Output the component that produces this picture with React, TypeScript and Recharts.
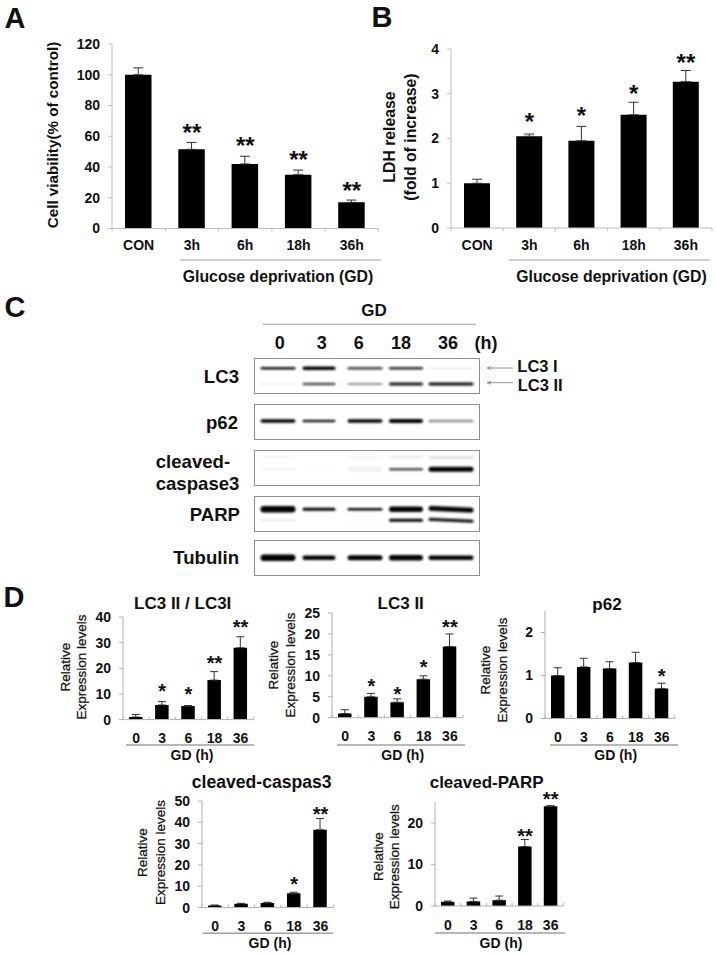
import { ComposedChart, Bar, Line, ErrorBar, LabelList, XAxis, YAxis, ScatterChart, Scatter } from 'recharts';

const FONT = '"Liberation Sans", Arial, sans-serif';

// panel A / B
const timeCategories = ['CON', '3h', '6h', '18h', '36h'];
const viabilityValues = [100, 51.5, 42, 35, 17];
const viabilityErrors = [4.5, 4.5, 5, 3, 1.5];
const viabilityStars = ['', '**', '**', '**', '**'];
const viabilityStarLevels = [null, 66, 57.5, 48, 28];

const ldhValues = [1, 2.05, 1.95, 2.53, 3.27];
const ldhErrors = [0.09, 0.05, 0.32, 0.28, 0.25];
const ldhStars = ['', '*', '*', '*', '**'];
const ldhStarLevels = [null, 2.49, 2.62, 3.12, 3.81];

// panel D
const gdHours = ['0', '3', '6', '18', '36'];
const ratioValues = [1, 5.7, 5.3, 15.4, 28];
const ratioErrors = [1, 1.3, 0.2, 3.3, 4.3];
const ratioStars = ['', '*', '*', '**', '**'];
const ratioStarLevels = [null, 12.7, 11.8, 23.9, 37.7];

const lc3Values = [1, 5, 3.7, 9.2, 17];
const lc3Errors = [0.9, 0.8, 0.8, 0.8, 3];
const lc3Stars = ['', '*', '*', '*', '**'];
const lc3StarLevels = [null, 8.6, 6.7, 13.1, 22.6];

const p62Values = [1, 1.2, 1.16, 1.3, 0.7];
const p62Errors = [0.18, 0.2, 0.16, 0.24, 0.12];
const p62Stars = ['', '', '', '', '*'];
const p62StarLevels = [null, null, null, null, 1.08];

const caspaseValues = [1, 1.8, 2.2, 6.7, 36.5];
const caspaseErrors = [0.2, 0.2, 0.3, 0.5, 5.3];
const caspaseStars = ['', '', '', '*', '**'];
const caspaseStarLevels = [null, null, null, 13.3, 46];

const parpValues = [1, 1.1, 1.4, 14.3, 24];
const parpErrors = [0.2, 0.8, 1, 1.7, 0.1];
const parpStars = ['', '', '', '**', '**'];
const parpStarLevels = [null, null, null, 18, 26.7];

// panel C, band strength per lane (0 = 0h ... 4 = 36h)
const lanePositions = [23, 64, 110, 151, 196];
const laneWidths = [35, 33, 35, 34, 45];
const lc3UpperStrength = [0.95, 1, 0.75, 0.85, 0.08];
const lc3UpperThickness = [2.5, 3.5, 2.5, 2.5, 2];
const lc3LowerStrength = [0.1, 0.7, 0.45, 0.9, 0.95];
const lc3LowerThickness = [1.5, 2.5, 2, 3, 3];
const p62Strength = [1, 0.9, 1, 1, 0.45];
const p62Thickness = [3.5, 2.5, 3.5, 4, 2.5];
const caspaseStrength = [0.03, 0.02, 0.05, 0.7, 1];
const caspaseThickness = [5, 2, 5, 2.5, 5];
const caspaseFaintStrength = [0.03, 0, 0.04, 0.08, 0.12];
const caspaseFaintThickness = [3, 2, 3, 3, 3];
const parpStrength = [1, 1, 1, 1, 1];
const parpThickness = [6.5, 3, 2.5, 5.5, 5];
const parpCleavedStrength = [0.1, 0, 0.02, 1, 1];
const parpCleavedThickness = [2, 2, 2, 3, 3];
const parpTilt = [0, 0, 0, 0, 2.5];
const tubulinStrength = [1, 1, 1, 1, 1];
const tubulinThickness = [6.5, 4.5, 5, 5.5, 4.5];

const buildRows = (cats, values, errors, stars, levels) =>
  cats.map((c, i) => ({ cat: c, value: values[i], err: [0, errors[i]], stars: stars[i], starLevel: levels[i] }));

const buildBands = (row, strength, thickness, tilt = [0, 0, 0, 0, 0]) =>
  lanePositions.map((lane, i) => ({ lane, row, strength: strength[i], thickness: thickness[i], width: laneWidths[i], tilt: tilt[i] }));

const StarMark = (fs) => (props: any) => {
  const x = props.x ?? props.viewBox?.x;
  const y = props.y ?? props.viewBox?.y;
  const w = props.width ?? props.viewBox?.width ?? 0;
  if (!props.value || y == null) return null;
  return (
    <text x={x + w / 2} y={y + fs * 0.57} textAnchor="middle" fontSize={fs} fontWeight="bold" fontFamily={FONT} fill="#111">
      {props.value}
    </text>
  );
};

function Panel({ left, top, w, h, rows, yMax, yTicks, barSize, starSize, tickSize = 14, catSize = 14, labelDy, tickUp = false, axisColor = '#bdbdbd', capWidth = 5 }: any) {
  const band = w / rows.length;
  const xTick = (p: any) => {
    const dir = tickUp ? -3 : 3;
    const edge = p.x - band / 2;
    return (
      <g>
        <line x1={edge} x2={edge} y1={p.y} y2={p.y + dir} stroke={axisColor} />
        {p.index === rows.length - 1 && <line x1={p.x + band / 2} x2={p.x + band / 2} y1={p.y} y2={p.y + dir} stroke={axisColor} />}
        <text x={p.x} y={p.y + labelDy} textAnchor="middle" dominantBaseline="central" fontSize={catSize} fontWeight="bold" fontFamily={FONT} fill="#111">
          {p.payload.value}
        </text>
      </g>
    );
  };
  return (
    <div style={{ position: 'absolute', left: left - 60, top: top - 20 }}>
      <ComposedChart width={w + 70} height={h + 60} data={rows} margin={{ top: 20, right: 10, left: 0, bottom: 0 }} barCategoryGap={0}>
        <XAxis dataKey="cat" height={40} interval={0} tickSize={0} tickMargin={0} tickLine={false} stroke={axisColor} tick={xTick} />
        <YAxis
          width={60}
          type="number"
          domain={[0, yMax]}
          ticks={yTicks}
          allowDataOverflow
          interval={0}
          tickSize={4}
          tickMargin={8}
          stroke={axisColor}
          tick={{ fontSize: tickSize, fontWeight: 'bold', fontFamily: FONT, fill: '#111' }}
        />
        <Bar dataKey="value" fill="#000" barSize={barSize} isAnimationActive={false}>
          <ErrorBar dataKey="err" direction="y" width={capWidth} stroke="#333" strokeWidth={1} isAnimationActive={false} />
        </Bar>
        <Line dataKey="starLevel" stroke="none" dot={false} activeDot={false} isAnimationActive={false} connectNulls={false}>
          <LabelList dataKey="stars" content={StarMark(starSize)} />
        </Line>
      </ComposedChart>
    </div>
  );
}

const BlotBand = (props: any) => {
  const { cx, cy, payload } = props;
  if (!payload.strength) return null;
  return (
    <rect
      x={cx - payload.width / 2}
      y={cy - payload.thickness / 2}
      width={payload.width}
      height={payload.thickness}
      rx={payload.thickness / 2}
      fill="#000"
      opacity={payload.strength}
      filter="url(#bandBlur)"
      transform={payload.tilt ? `rotate(${payload.tilt} ${cx} ${cy})` : undefined}
    />
  );
};

function Blot({ top, bands }: any) {
  return (
    <div style={{ position: 'absolute', left: 254, top, width: 224, height: 34, border: '1px solid #8f8f8f', boxSizing: 'content-box' }}>
      <ScatterChart width={224} height={34} margin={{ top: 0, right: 0, left: 0, bottom: 0 }}>
        <defs>
          <filter id="bandBlur" x="-20%" y="-200%" width="140%" height="500%">
            <feGaussianBlur stdDeviation="0.85" />
          </filter>
        </defs>
        <XAxis type="number" dataKey="lane" domain={[0, 224]} hide />
        <YAxis type="number" dataKey="row" domain={[0, 34]} reversed hide />
        <Scatter data={bands} shape={BlotBand} isAnimationActive={false} />
      </ScatterChart>
    </div>
  );
}

function Caption({ x, y, size = 14, anchor = 'middle', weight = 'bold', rotate = false, children }: any) {
  return (
    <text
      x={x}
      y={y}
      fontSize={size}
      fontWeight={weight}
      fontFamily={FONT}
      textAnchor={anchor}
      dominantBaseline="central"
      fill="#111"
      stroke={weight === 'normal' ? '#111' : undefined}
      strokeWidth={weight === 'normal' ? 0.25 : undefined}
      transform={rotate ? `rotate(-90 ${x} ${y})` : undefined}
    >
      {children}
    </text>
  );
}

function Rule({ x1, x2, y, width = 1 }: any) {
  return <line x1={x1} x2={x2} y1={y} y2={y} stroke="#a0a0a0" strokeWidth={width} />;
}

export default function App() {
  const dPanel = { barSize: 13.5, starSize: 20, tickSize: 14, catSize: 14, labelDy: 18.5, tickUp: true, capWidth: 4, axisColor: '#b0b0b0' };
  return (
    <div style={{ position: 'absolute', left: 0, top: 0, width: 716, height: 955, background: '#fff', overflow: 'hidden' }}>
      <Panel left={112} top={43.5} w={266.5} h={184.5} rows={buildRows(timeCategories, viabilityValues, viabilityErrors, viabilityStars, viabilityStarLevels)} yMax={120} yTicks={[0, 20, 40, 60, 80, 100, 120]} barSize={26.5} starSize={24} labelDy={16} />
      <Panel left={450.7} top={49.3} w={261} h={179} rows={buildRows(timeCategories, ldhValues, ldhErrors, ldhStars, ldhStarLevels)} yMax={4} yTicks={[0, 1, 2, 3, 4]} barSize={26} starSize={24} labelDy={17} />

      <Panel {...dPanel} left={123.3} top={616.7} w={130.7} h={102.6} rows={buildRows(gdHours, ratioValues, ratioErrors, ratioStars, ratioStarLevels)} yMax={40} yTicks={[0, 10, 20, 30, 40]} />
      <Panel {...dPanel} left={332.3} top={613.3} w={131} h={104.7} rows={buildRows(gdHours, lc3Values, lc3Errors, lc3Stars, lc3StarLevels)} yMax={25} yTicks={[0, 5, 10, 15, 20, 25]} />
      <Panel {...dPanel} left={545.3} top={610.8} w={129.7} h={107.5} rows={buildRows(gdHours, p62Values, p62Errors, p62Stars, p62StarLevels)} yMax={2.5} yTicks={[0, 1, 2]} />
      <Panel {...dPanel} left={201.7} top={800.7} w={131.6} h={106.6} rows={buildRows(gdHours, caspaseValues, caspaseErrors, caspaseStars, caspaseStarLevels)} yMax={50} yTicks={[0, 10, 20, 30, 40, 50]} />
      <Panel {...dPanel} left={435} top={802} w={128.5} h={104} rows={buildRows(gdHours, parpValues, parpErrors, parpStars, parpStarLevels)} yMax={25} yTicks={[0, 10, 20]} />

      <Blot top={358} bands={[...buildBands(9.3, lc3UpperStrength, lc3UpperThickness), ...buildBands(25, lc3LowerStrength, lc3LowerThickness)]} />
      <Blot top={404} bands={buildBands(16, p62Strength, p62Thickness)} />
      <Blot top={450} bands={[...buildBands(6.3, caspaseFaintStrength, caspaseFaintThickness), ...buildBands(18.3, caspaseStrength, caspaseThickness)]} />
      <Blot top={495.5} bands={[...buildBands(12.3, parpStrength, parpThickness, parpTilt), ...buildBands(23.3, parpCleavedStrength, parpCleavedThickness, parpTilt)]} />
      <Blot top={540} bands={buildBands(16.7, tubulinStrength, tubulinThickness)} />

      <svg width={716} height={955} style={{ position: 'absolute', left: 0, top: 0, pointerEvents: 'none' }}>
        <Caption x={15} y={17.5} size={29}>A</Caption>
        <Caption x={382} y={16.5} size={29}>B</Caption>
        <Caption x={15} y={307} size={29}>C</Caption>
        <Caption x={14} y={597} size={29}>D</Caption>

        <Caption x={52} y={135} size={15.2} rotate>Cell viability(% of control)</Caption>
        <Caption x={389} y={137} size={15.8} rotate>LDH release</Caption>
        <Caption x={410} y={137} size={15.8} rotate>(fold of increase)</Caption>
        <Rule x1={180} x2={381} y={260} />
        <Caption x={278} y={276} size={15.8}>Glucose deprivation (GD)</Caption>
        <Rule x1={509} x2={710} y={260} />
        <Caption x={611.5} y={276.7} size={15.8}>Glucose deprivation (GD)</Caption>

        <Caption x={374} y={310} size={17}>GD</Caption>
        <Rule x1={263} x2={476} y={324.3} />
        <Caption x={279.7} y={342.7} size={18}>0</Caption>
        <Caption x={321.7} y={342.7} size={18}>3</Caption>
        <Caption x={358.7} y={342.7} size={18}>6</Caption>
        <Caption x={401} y={342.7} size={18}>18</Caption>
        <Caption x={448} y={342.7} size={18}>36</Caption>
        <Caption x={486} y={342.7} size={18}>(h)</Caption>
        <Caption x={239} y={376} size={18.6} anchor="end">LC3</Caption>
        <Caption x={238} y={422.7} size={18.6} anchor="end">p62</Caption>
        <Caption x={155.7} y={461.7} size={18.6} anchor="start">cleaved-</Caption>
        <Caption x={155.7} y={483.3} size={18.6} anchor="start">caspase3</Caption>
        <Caption x={240} y={514} size={18.6} anchor="end">PARP</Caption>
        <Caption x={239} y={557.7} size={18.6} anchor="end">Tubulin</Caption>
        <Caption x={517.3} y={366} size={16.5} anchor="start">LC3 I</Caption>
        <Caption x={517.7} y={385.3} size={16.5} anchor="start">LC3 II</Caption>
        <path d="M513 368H488M491 366.5L487 368L491 369.5" fill="none" stroke="#777" strokeWidth={0.8} />
        <path d="M513 382.7H488M491 381.2L487 382.7L491 384.2" fill="none" stroke="#777" strokeWidth={0.8} />

        <Caption x={182.7} y={603} size={17}>LC3 II / LC3I</Caption>
        <Caption x={400.7} y={603} size={17}>LC3 II</Caption>
        <Caption x={607} y={604} size={17}>p62</Caption>
        <Caption x={261.7} y={782} size={17.6}>cleaved-caspas3</Caption>
        <Caption x={486.7} y={782} size={17}>cleaved-PARP</Caption>

        <Caption x={65.7} y={667} size={13.5} weight="normal" rotate>Relative</Caption>
        <Caption x={81.7} y={667} size={13.5} weight="normal" rotate>Expression levels</Caption>
        <Caption x={273.3} y={665} size={13.5} weight="normal" rotate>Relative</Caption>
        <Caption x={290.7} y={665} size={13.5} weight="normal" rotate>Expression levels</Caption>
        <Caption x={485.7} y={670} size={13.5} weight="normal" rotate>Relative</Caption>
        <Caption x={502.3} y={670} size={13.5} weight="normal" rotate>Expression levels</Caption>
        <Caption x={142.7} y={852.5} size={13.5} weight="normal" rotate>Relative</Caption>
        <Caption x={160} y={852.5} size={13.5} weight="normal" rotate>Expression levels</Caption>
        <Caption x={378.3} y={856.7} size={13.5} weight="normal" rotate>Relative</Caption>
        <Caption x={394.3} y={856.7} size={13.5} weight="normal" rotate>Expression levels</Caption>

        <Rule x1={126} x2={254.3} y={745} width={1.5} />
        <Caption x={192} y={755}>GD (h)</Caption>
        <Rule x1={337} x2={465} y={745} width={1.5} />
        <Caption x={402.7} y={755}>GD (h)</Caption>
        <Rule x1={550} x2={678} y={745} width={1.5} />
        <Caption x={615.7} y={755}>GD (h)</Caption>
        <Rule x1={203} x2={333} y={933.3} width={1.5} />
        <Caption x={270} y={943}>GD (h)</Caption>
        <Rule x1={435} x2={565} y={933} width={1.5} />
        <Caption x={501} y={943}>GD (h)</Caption>
      </svg>
    </div>
  );
}
